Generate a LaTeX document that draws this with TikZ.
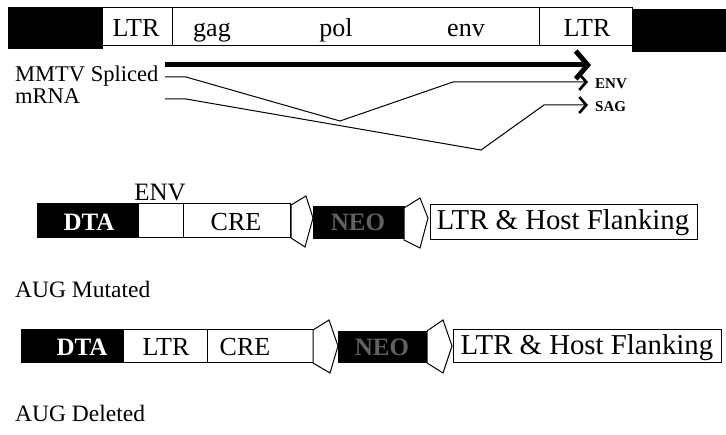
\documentclass[tikz,border=0pt]{standalone}
\usepackage{fontspec}
\setmainfont{Liberation Serif}
\usetikzlibrary{arrows.meta}
\begin{document}
\begin{tikzpicture}[x=1pt,y=-1pt,
  seg/.style={draw=black, line width=1pt, fill=white, inner sep=0pt, outer sep=0pt, anchor=north west},
  blk/.style={draw=black, line width=1pt, fill=black, inner sep=0pt, outer sep=0pt, anchor=north west},
  lox/.style={draw=black, line width=1pt, fill=white, line join=miter},
  big/.style={inner sep=0pt, anchor=base, font=\fontsize{26}{30}\selectfont},
  mid/.style={inner sep=0pt, anchor=base west, font=\fontsize{22.5}{26}\selectfont},
  small/.style={inner sep=0pt, anchor=west, font=\bfseries\fontsize{15}{17}\selectfont},
  wtxt/.style={inner sep=0pt, anchor=base, text=white, font=\bfseries\fontsize{25}{30}\selectfont},
  ntxt/.style={inner sep=0pt, anchor=base, text=black!62, font=\bfseries\fontsize{25}{30}\selectfont},
  thin/.style={line width=1pt, -{Straight Barb[length=7pt,width=16pt,line width=2.6pt]}},
  thick/.style={line width=5pt, -{Straight Barb[length=12pt,width=28pt,line width=5pt]}}]
\useasboundingbox[fill=white] (0,0) rectangle (726,435);

% ---------- top provirus bar ----------
\node[blk, minimum width=94pt, minimum height=41pt] (lblack) at (8,8) {};
\node[seg, minimum width=70pt, minimum height=38pt] (ltrA) at (102,8) {};
\node[seg, minimum width=367pt, minimum height=38pt] (genes) at (172,8) {};
\node[seg, minimum width=93pt, minimum height=38pt] (ltrB) at (539,8) {};
\node[blk, minimum width=94pt, minimum height=42pt] (rblack) at (632,10) {};
\node[big] (tltrA) at (136,37) {LTR};
\node[big] (tgag) at (212,37) {gag};
\node[big] (tpol) at (336,37) {pol};
\node[big] (tenv) at (466,37) {env};
\node[big] (tltrB) at (587,37) {LTR};

% ---------- transcripts ----------
\node[mid] (mmtv) at (15,82) {MMTV Spliced};
\node[mid] (mrna) at (15,104) {mRNA};
\node[small] (envl) at (595,84) {ENV};
\node[small] (sagl) at (595,107) {SAG};

\coordinate (a0) at (165,65);
\coordinate (a1) at (591,65);
\draw[thick] (a0) -- (a1);

\coordinate (b0) at (165,77);
\coordinate (b1) at (186,77);
\coordinate (b2) at (340,121);
\coordinate (b3) at (453,82);
\coordinate (b4) at (588,82);
\draw[thin] (b0) -- (b1) -- (b2) -- (b3) -- (b4);

\coordinate (c0) at (165,99);
\coordinate (c1) at (186,99);
\coordinate (c2) at (481,150);
\coordinate (c3) at (544,105);
\coordinate (c4) at (588,105);
\draw[thin] (c0) -- (c1) -- (c2) -- (c3) -- (c4);

% ---------- construct 1 (AUG Mutated) ----------
\node[blk, minimum width=101pt, minimum height=34pt] (dta1) at (37,204) {};
\node[seg, minimum width=45pt, minimum height=34pt] (env1) at (138,204) {};
\node[seg, minimum width=107pt, minimum height=34pt] (cre1) at (183,204) {};
\draw[lox] (291,205) -- (306,196) -- (313,218) -- (305,247) -- (291,238) -- cycle;
\node[blk, minimum width=91pt, minimum height=32pt] (neo1) at (313,207) {};
\draw[lox] (404,208) -- (420,198) -- (428,218) -- (420,248) -- (404,240) -- cycle;
\node[seg, minimum width=267pt, minimum height=35pt] (host1) at (430,205) {};
\node[wtxt] (tdta1) at (89,231) {DTA};
\node[inner sep=0pt, anchor=base, font=\fontsize{25}{30}\selectfont] (tenv1) at (160,201) {ENV};
\node[big] (tcre1) at (236,231) {CRE};
\node[ntxt] (tneo1) at (358,231) {NEO};
\node[big, font=\fontsize{28.8}{32}\selectfont] (thost1) at (563,230) {LTR \& Host Flanking};
\node[mid, font=\fontsize{23.5}{27}\selectfont] (augm) at (15,298) {AUG Mutated};

% ---------- construct 2 (AUG Deleted) ----------
\node[blk, minimum width=102pt, minimum height=33pt] (dta2) at (21,330) {};
\node[seg, minimum width=84pt, minimum height=33pt] (ltr2) at (123,330) {};
\node[seg, minimum width=106pt, minimum height=33pt] (cre2) at (207,330) {};
\draw[lox] (313,330) -- (329,320) -- (338,346) -- (330,373) -- (313,363) -- cycle;
\node[blk, minimum width=89pt, minimum height=31pt] (neo2) at (338,332) {};
\draw[lox] (427,331) -- (443,320) -- (452,346) -- (443,373) -- (427,363) -- cycle;
\node[seg, minimum width=268pt, minimum height=33pt] (host2) at (453,330) {};
\node[wtxt] (tdta2) at (82,356) {DTA};
\node[big] (tltr2) at (166,356) {LTR};
\node[big] (tcre2) at (245,356) {CRE};
\node[ntxt] (tneo2) at (382,356) {NEO};
\node[big, font=\fontsize{28.8}{32}\selectfont] (thost2) at (587,355) {LTR \& Host Flanking};
\node[mid, font=\fontsize{23.5}{27}\selectfont] (augd) at (15,422) {AUG Deleted};
\end{tikzpicture}
\end{document}
